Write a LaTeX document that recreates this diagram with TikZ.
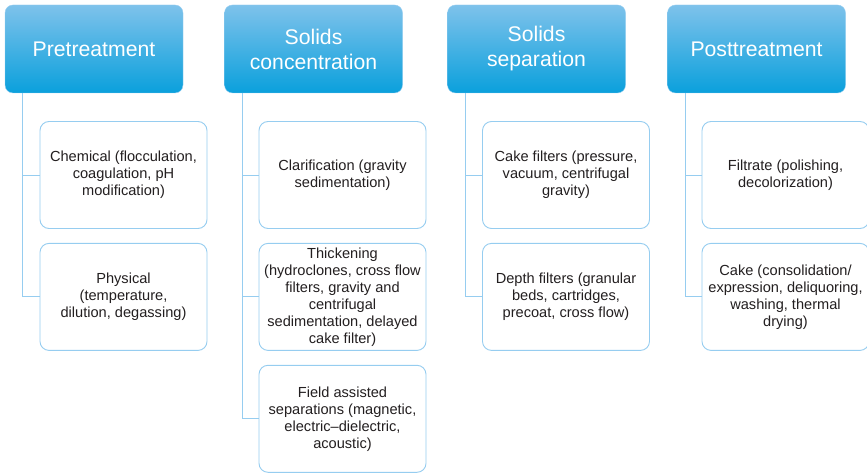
\documentclass[tikz,border=0pt]{standalone}
\usepackage{fontspec}
\setmainfont{Liberation Sans}
\usetikzlibrary{positioning}
\definecolor{hdrtop}{HTML}{7EC2EB}
\definecolor{hdrbot}{HTML}{0AA0DC}
\definecolor{boxline}{HTML}{96CDF0}
\definecolor{txtgray}{HTML}{231F20}
\tikzset{
  header/.style={rectangle, rounded corners=8pt, draw=boxline, top color=hdrtop, bottom color=hdrbot,
    minimum width=178pt, minimum height=88pt, text=white, align=center,
    font=\fontsize{21.2}{25}\selectfont, inner sep=0pt},
  item/.style={rectangle, rounded corners=9pt, draw=boxline, line width=0.9pt, fill=white,
    minimum width=167pt, minimum height=107pt, text=txtgray, align=center,
    font=\fontsize{14.6}{17}\selectfont, inner sep=0pt},
  branch/.style={draw=boxline, line width=0.9pt}
}
\begin{document}
\begin{tikzpicture}[x=1pt, y=-1pt]
  \useasboundingbox (0,0) rectangle (867,473);
  % Cabeçalhos
  \node[header] (pre) at (94,49) {Pretreatment};
  \node[header] (conc) at (313.5,49) {Solids\\concentration};
  \node[header] (sep) at (536.5,49) {Solids\\separation};
  \node[header] (post) at (756.5,49) {Posttreatment};

  % Pretreatment
  \node[item] (pre1) at (123.5,175) {Chemical (flocculation,\\coagulation, pH\\modification)};
  \node[item, below=14pt of pre1] (pre2) {Physical\\(temperature,\\dilution, degassing)};

  % Solids concentration
  \node[item] (conc1) at (342.5,175) {Clarification (gravity\\sedimentation)};
  \node[item, below=14pt of conc1] (conc2) {Thickening\\(hydroclones, cross flow\\filters, gravity and\\centrifugal\\sedimentation, delayed\\cake filter)};
  \node[item, below=14pt of conc2] (conc3) {Field assisted\\separations (magnetic,\\electric--dielectric,\\acoustic)};

  % Solids separation
  \node[item] (sep1) at (566,175) {Cake filters (pressure,\\vacuum, centrifugal\\gravity)};
  \node[item, below=14pt of sep1] (sep2) {Depth filters (granular\\beds, cartridges,\\precoat, cross flow)};

  % Posttreatment
  \node[item] (post1) at (785.5,175) {Filtrate (polishing,\\decolorization)};
  \node[item, below=14pt of post1] (post2) {Cake (consolidation/\\expression, deliquoring,\\washing, thermal\\drying)};

  % Ligações
  \foreach \h/\kids in {pre/{pre1,pre2}, conc/{conc1,conc2,conc3}, sep/{sep1,sep2}, post/{post1,post2}}{
    \coordinate (\h-root) at ([xshift=18pt]\h.south west);
    \foreach \k in \kids{
      \draw[branch] (\h-root) |- (\k.west);
    }
  }
\end{tikzpicture}
\end{document}
